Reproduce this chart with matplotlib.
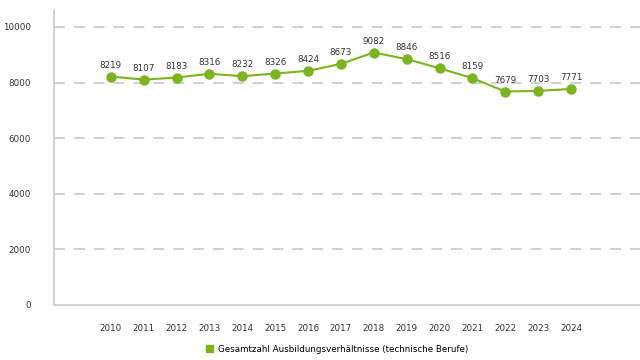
import matplotlib
matplotlib.use("Agg")
import matplotlib.pyplot as plt
from matplotlib.patches import Patch

years = [2010, 2011, 2012, 2013, 2014, 2015, 2016, 2017,
         2018, 2019, 2020, 2021, 2022, 2023, 2024]
values = [8219, 8107, 8183, 8316, 8232, 8326, 8424, 8673,
          9082, 8846, 8516, 8159, 7679, 7703, 7771]
series_label = "Gesamtzahl Ausbildungsverhältnisse (technische Berufe)"
y_ticks = [0, 2000, 4000, 6000, 8000, 10000]

GREEN = "#7ab51d"
plt.rcParams["font.family"] = ["Liberation Sans Narrow", "DejaVu Sans"]

fig = plt.figure(figsize=(6.4, 3.6), dpi=100)
ax = fig.add_axes([54 / 640, 55 / 360, 586 / 640, 295 / 360])

x = list(range(len(years)))
ax.plot(x, values, color=GREEN, linewidth=1.5, marker="o", markersize=6.5,
        zorder=3)
for xi, v in zip(x, values):
    ax.annotate(str(v), (xi, v), xytext=(0, 5), textcoords="offset points",
                ha="center", va="bottom", fontsize=6.3, color="#333333")

ax.set_xlim(-1.73, len(years) - 1 + 2.1)
ax.set_ylim(0, 10000 * 295 / 278)
ax.set_yticks(y_ticks)
ax.set_yticklabels([str(t) for t in y_ticks], fontsize=6.3, color="#333333")
ax.set_xticks(x)
ax.set_xticklabels([str(y) for y in years], fontsize=6.3, color="#333333")
ax.tick_params(length=0)
ax.tick_params(axis="x", pad=14)
ax.tick_params(axis="y", pad=16.5)
for t in y_ticks[1:]:
    ax.axhline(t, color="#cccccc", linewidth=1.3, dashes=(6, 5), zorder=1)
for side in ["top", "right"]:
    ax.spines[side].set_visible(False)
ax.spines["left"].set_color("#cccccc")
ax.spines["bottom"].set_color("#cccccc")
ax.spines["left"].set_linewidth(1.2)
ax.spines["bottom"].set_linewidth(1.2)

fig.legend(handles=[Patch(color=GREEN, label=series_label)],
           loc="center", bbox_to_anchor=(337 / 640, 1 - 349 / 360),
           frameon=False, fontsize=6.3, handlelength=0.8, handleheight=0.8,
           handletextpad=0.6)

fig.savefig("out.png", dpi=100)
